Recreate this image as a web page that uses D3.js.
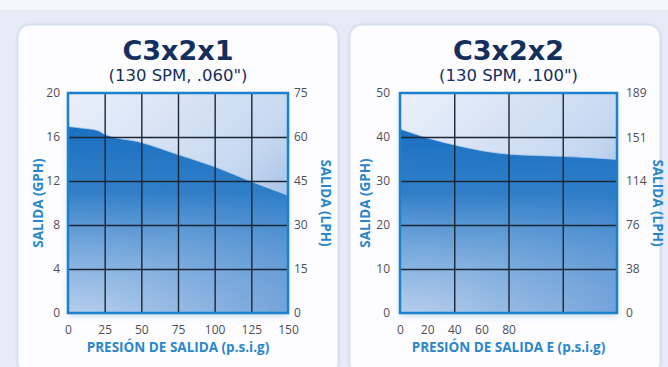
<!DOCTYPE html>
<html>
<head>
<meta charset="utf-8">
<script src="https://cdn.jsdelivr.net/npm/d3@7"></script>
<style>
  html, body { margin: 0; padding: 0; background: #e6ebf6; }
  svg { display: block; }
</style>
</head>
<body>
<svg id="chart" width="668" height="367"></svg>
<script>
// ---- data ----
const pressure1 = [0, 10, 20, 25, 50, 75, 100, 125, 150];
const output1 = [16.95, 16.8, 16.6, 16.25, 15.5, 14.4, 13.3, 11.95, 10.7];
const xTicks1 = [0, 25, 50, 75, 100, 125, 150];
const xGrid1 = [25, 50, 75, 100, 125];
const yTicks1 = [0, 4, 8, 12, 16, 20];
const yRightTicks1 = [0, 15, 30, 45, 60, 75];

const pressure2 = [0, 20, 40, 60, 80, 100, 120, 140, 160];
const output2 = [41.8, 39.8, 38.2, 36.9, 36.1, 35.8, 35.6, 35.3, 34.9];
const xTicks2 = [0, 20, 40, 60, 80];
const xGrid2 = [40, 80, 120];
const yTicks2 = [0, 10, 20, 30, 40, 50];
const yRightTicks2 = [0, 38, 76, 114, 151, 189];

const titles = ["C3x2x1", "C3x2x2"];
const subtitles = ["(130 SPM, .060\")", "(130 SPM, .100\")"];
const xLabels = ["PRESIÓN DE SALIDA (p.s.i.g)", "PRESIÓN DE SALIDA E (p.s.i.g)"];
const yLabelLeft = "SALIDA (GPH)";
const yLabelRight = "SALIDA (LPH)";

// ---- setup ----
const svg = d3.select("#chart");
const defs = svg.append("defs");

// pale strip across the top edge
svg.append("rect").attr("x", 0).attr("y", 0).attr("width", 668).attr("height", 10).attr("fill", "#f4f6fb");

// plot background: pale at top-left, deeper blue toward bottom-right
const bg = defs.append("linearGradient").attr("id", "plotBg")
  .attr("x1", "0").attr("y1", "0").attr("x2", "1").attr("y2", "1");
bg.append("stop").attr("offset", "0%").attr("stop-color", "#eaf0fa");
bg.append("stop").attr("offset", "55%").attr("stop-color", "#c6d8f0");
bg.append("stop").attr("offset", "100%").attr("stop-color", "#7ea8dc");

// area: strong blue at the top, fading toward the bottom
const ag = defs.append("linearGradient").attr("id", "areaFill")
  .attr("x1", "0").attr("y1", "0").attr("x2", "0").attr("y2", "1");
ag.append("stop").attr("offset", "0%").attr("stop-color", "#1a70c1").attr("stop-opacity", 1);
ag.append("stop").attr("offset", "35%").attr("stop-color", "#1f74c3").attr("stop-opacity", 0.9);
ag.append("stop").attr("offset", "100%").attr("stop-color", "#3d86cf").attr("stop-opacity", 0.15);

const shadow = defs.append("filter").attr("id", "glow")
  .attr("x", "-10%").attr("y", "-10%").attr("width", "120%").attr("height", "125%");
shadow.append("feDropShadow").attr("dx", 0).attr("dy", 3).attr("stdDeviation", 3)
  .attr("flood-color", "#5d8fd0").attr("flood-opacity", 0.35);

const cardShadow = defs.append("filter").attr("id", "cardShadow")
  .attr("x", "-5%").attr("y", "-5%").attr("width", "110%").attr("height", "110%");
cardShadow.append("feDropShadow").attr("dx", 0).attr("dy", 0).attr("stdDeviation", 1.5)
  .attr("flood-color", "#b8c6e2").attr("flood-opacity", 0.8);

const panels = [
  { card: [18, 25, 320, 350], plot: [68, 93, 288, 313], xDomain: [0, 150], yDomain: [0, 20], yrDomain: [0, 75],
    xs: pressure1, ys: output1, xTicks: xTicks1, xGrid: xGrid1, yTicks: yTicks1, yrTicks: yRightTicks1,
    yLabelX: 38, yrLabelX: 326 },
  { card: [350, 25, 310, 350], plot: [400, 93, 617, 313], xDomain: [0, 160], yDomain: [0, 50], yrDomain: [0, 189],
    xs: pressure2, ys: output2, xTicks: xTicks2, xGrid: xGrid2, yTicks: yTicks2, yrTicks: yRightTicks2,
    yLabelX: 365, yrLabelX: 658 }
];

panels.forEach((p, i) => {
  const [cx, cy, cw, ch] = p.card;
  svg.append("rect").attr("x", cx).attr("y", cy).attr("width", cw).attr("height", ch)
    .attr("rx", 12).attr("fill", "#fdfdff").attr("stroke", "#d6dff0").attr("stroke-width", 1)
    .attr("filter", "url(#cardShadow)");

  const [x0, y0, x1, y1] = p.plot;
  const x = d3.scaleLinear().domain(p.xDomain).range([x0, x1]);
  const y = d3.scaleLinear().domain(p.yDomain).range([y1, y0]);
  const yr = d3.scaleLinear().domain(p.yrDomain).range([y1, y0]);
  const mid = (x0 + x1) / 2;

  // titles
  svg.append("text").attr("x", mid).attr("y", 60).attr("text-anchor", "middle")
    .attr("font-family", "'DejaVu Sans', sans-serif").attr("font-weight", 700)
    .attr("font-size", 27).attr("fill", "#142f5c").text(titles[i]);
  svg.append("text").attr("x", mid).attr("y", 81).attr("text-anchor", "middle")
    .attr("font-family", "'DejaVu Sans', sans-serif").attr("font-weight", 400)
    .attr("font-size", 16.5).attr("fill", "#142f5c").text(subtitles[i]);

  const g = svg.append("g");
  // plot background
  g.append("rect").attr("x", x0).attr("y", y0).attr("width", x1 - x0).attr("height", y1 - y0)
    .attr("fill", "url(#plotBg)").attr("filter", "url(#glow)");

  // output curve area
  const pts = p.xs.map((v, k) => [v, p.ys[k]]);
  const area = d3.area().x(d => x(d[0])).y0(y(0)).y1(d => y(d[1])).curve(d3.curveMonotoneX);
  const line = d3.line().x(d => x(d[0])).y(d => y(d[1])).curve(d3.curveMonotoneX);
  g.append("path").datum(pts).attr("d", area).attr("fill", "url(#areaFill)");
  g.append("path").datum(pts).attr("d", line).attr("fill", "none")
    .attr("stroke", "#a9cdf0").attr("stroke-width", 1).attr("opacity", 0.8);

  // grid
  g.append("g").attr("transform", `translate(0,${y1})`)
    .call(d3.axisBottom(x).tickValues(p.xGrid).tickSize(-(y1 - y0)).tickFormat(""))
    .call(s => s.select(".domain").remove())
    .call(s => s.selectAll("line").attr("stroke", "#1b2634").attr("stroke-width", 1.4));
  g.append("g").attr("transform", `translate(${x0},0)`)
    .call(d3.axisLeft(y).tickValues(p.yTicks.slice(1, -1)).tickSize(-(x1 - x0)).tickFormat(""))
    .call(s => s.select(".domain").remove())
    .call(s => s.selectAll("line").attr("stroke", "#1b2634").attr("stroke-width", 1.4));

  // frame
  g.append("rect").attr("x", x0).attr("y", y0).attr("width", x1 - x0).attr("height", y1 - y0)
    .attr("fill", "none").attr("stroke", "#1c80cc").attr("stroke-width", 2.5);

  const tickStyle = s => {
    s.select(".domain").remove();
    s.selectAll("line").remove();
    s.selectAll("text").attr("font-family", "'Open Sans', sans-serif")
      .attr("font-size", 12).attr("fill", "#4d4f55");
  };
  svg.append("g").attr("transform", `translate(0,${y1})`)
    .call(d3.axisBottom(x).tickValues(p.xTicks).tickSize(0).tickPadding(12)).call(tickStyle);
  svg.append("g").attr("transform", `translate(${x0},0)`)
    .call(d3.axisLeft(y).tickValues(p.yTicks).tickSize(0).tickPadding(i === 0 ? 8 : 10)).call(tickStyle);
  svg.append("g").attr("transform", `translate(${x1},0)`)
    .call(d3.axisRight(yr).tickValues(p.yrTicks).tickSize(0).tickPadding(i === 0 ? 6 : 9)).call(tickStyle);

  // axis titles
  const lab = { "font-family": "'Open Sans', sans-serif", "font-weight": 700, "font-size": 13.5, "fill": "#2a86cb" };
  const setLab = t => { Object.entries(lab).forEach(([k, v]) => t.attr(k, v)); return t; };
  setLab(svg.append("text").attr("x", mid).attr("y", 352).attr("text-anchor", "middle").text(xLabels[i]));
  setLab(svg.append("text").attr("text-anchor", "middle").attr("dominant-baseline", "central")
    .attr("transform", `translate(${p.yLabelX},${(y0 + y1) / 2}) rotate(-90)`).text(yLabelLeft));
  setLab(svg.append("text").attr("text-anchor", "middle").attr("dominant-baseline", "central")
    .attr("transform", `translate(${p.yrLabelX},${(y0 + y1) / 2}) rotate(90)`).text(yLabelRight));
});
</script>
</body>
</html>
